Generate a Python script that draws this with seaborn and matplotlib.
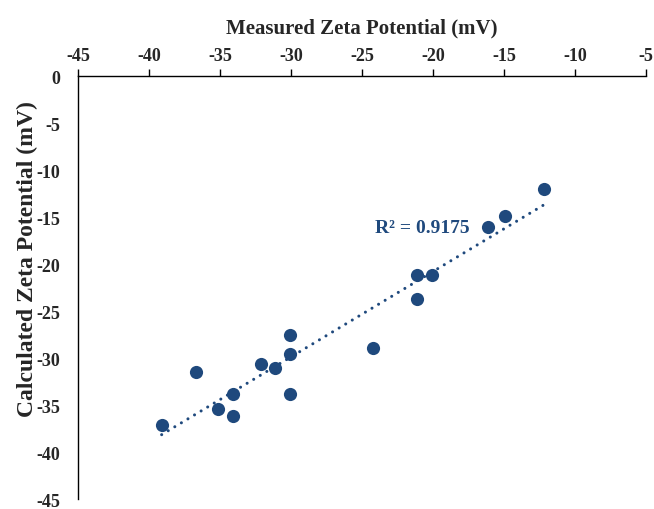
import matplotlib
matplotlib.use("Agg")
import matplotlib.pyplot as plt
import seaborn as sns
import numpy as np

# measured vs calculated zeta potential (mV)
measured = [-39.1, -36.7, -35.1, -34.1, -34.1, -32.1, -31.1, -30.1, -30.1,
            -30.1, -24.2, -21.1, -20.1, -21.1, -16.1, -14.9, -12.2]
calculated = [-37.1, -31.5, -35.4, -33.8, -36.2, -30.6, -31.1, -27.6, -29.6,
              -33.8, -28.9, -21.2, -21.2, -23.7, -16.1, -14.9, -12.0]
x_ticks = [-45, -40, -35, -30, -25, -20, -15, -10, -5]
y_ticks = [0, -5, -10, -15, -20, -25, -30, -35, -40, -45]
r2_label = "R² = 0.9175"

blue = "#1F497D"

sns.set_style("white")
plt.rcParams['font.family'] = ['Liberation Serif', 'DejaVu Serif']
plt.rcParams['font.weight'] = 'bold'
plt.rcParams['axes.unicode_minus'] = False

fig = plt.figure(figsize=(6.54, 5.10), dpi=100)
ax = fig.add_axes([0.119, 0.0196, 0.869, 0.8294])

sns.regplot(x=np.array(measured), y=np.array(calculated), ax=ax, ci=None,
            scatter_kws=dict(s=90, color=blue, alpha=1, linewidths=0, zorder=3),
            line_kws=dict(color=blue, lw=2.2, linestyle=(0, (0.01, 2.5)),
                          dash_capstyle='round', zorder=2))

ax.set_xlim(-45, -5)
ax.set_ylim(-45, 0)
ax.set_xticks(x_ticks)
ax.set_yticks(y_ticks)
ax.xaxis.tick_top()
ax.xaxis.set_label_position('top')
ax.tick_params(axis='x', direction='out', length=5, width=1, color='black',
               labelsize=13, pad=4)
ax.tick_params(axis='y', direction='out', length=5, width=1, color='black',
               labelsize=13, pad=8)
for lab in ax.get_xticklabels() + ax.get_yticklabels():
    lab.set_fontweight('bold')

for side in ['right', 'bottom']:
    ax.spines[side].set_visible(False)
for side in ['top', 'left']:
    ax.spines[side].set_color('black')
    ax.spines[side].set_linewidth(1)

ax.set_xlabel("Measured Zeta Potential (mV)", fontsize=15, fontweight='bold', labelpad=10)
ax.set_ylabel("Calculated Zeta Potential (mV)", fontsize=17, fontweight='bold')
ax.yaxis.set_label_coords(-0.070, 0.569)

ax.text(-24.1, -16.1, r2_label, color=blue, fontsize=14, fontweight='bold',
        va='center')

fig.savefig("out.png", dpi=100)
